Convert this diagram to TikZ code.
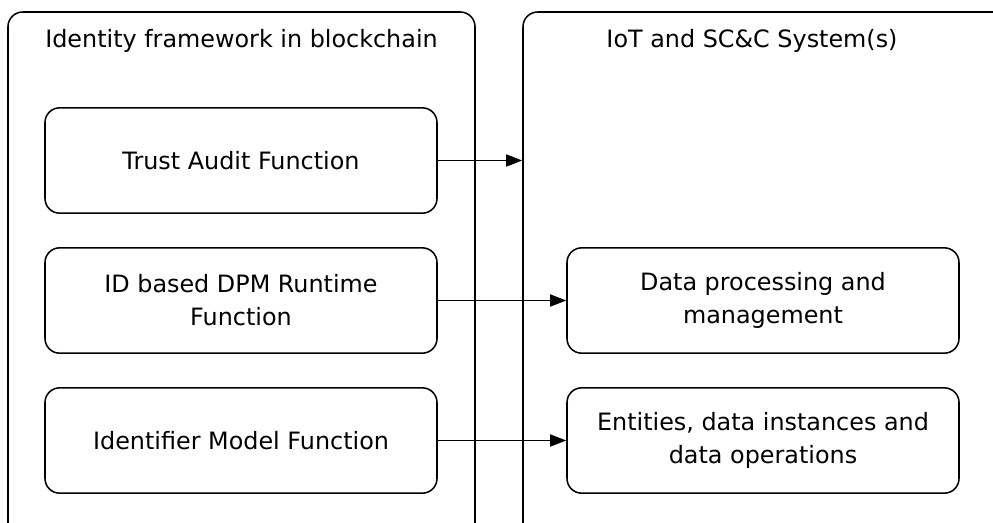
\documentclass[tikz,border=0pt]{standalone}
\usepackage{fontspec}
\setmainfont{DejaVu Sans}
\usetikzlibrary{arrows.meta}
\begin{document}
\begin{tikzpicture}[x=0.75pt, y=-0.75pt, line width=1.15pt,
	frame/.style = {draw, rounded corners=11pt, inner sep=0pt},
	title/.style = {anchor=base, font=\fontsize{17.9}{24.8}\selectfont},
	func/.style = {draw, rounded corners=11pt, minimum width=294pt, minimum height=79pt,
		align=center, font=\fontsize{17.9}{24.8}\selectfont},
	flow/.style = {-{Triangle[length=12pt, width=9pt]}}]
		\useasboundingbox (0,0) rectangle (993,522);
		\clip (0,0) rectangle (993,522);
		
		% the two systems (they run off the page)
		\node [frame, minimum width=350.25pt, minimum height=411pt] (chain) at (241.5, 286) {};
		\node [frame, minimum width=387.75pt, minimum height=411pt] (iotsys) at (781.5, 286) {};
		\node [title] (chaintitle) at (241.5, 47) {Identity framework in blockchain};
		\node [title] (iottitle) at (752, 47) {IoT and SC\&C System(s)};
		
		% functions
		\node [func] (trust) at (241, 160.5) {Trust Audit Function};
		\node [func] (dpm) at (241, 300.5) {ID based DPM Runtime\\Function};
		\node [func] (idmodel) at (241, 440.5) {Identifier Model Function};
		
		\node [func] (dataproc) at (763, 300.5) {Data processing and\\management};
		\node [func] (entities) at (763, 440.5) {Entities, data instances and\\data operations};
		
		\draw [flow] (trust.east) -- (trust.east -| iotsys.west);
		\draw [flow] (dpm.east) -- (dataproc.west);
		\draw [flow] (idmodel.east) -- (entities.west);
		
		\end{tikzpicture}
\end{document}
